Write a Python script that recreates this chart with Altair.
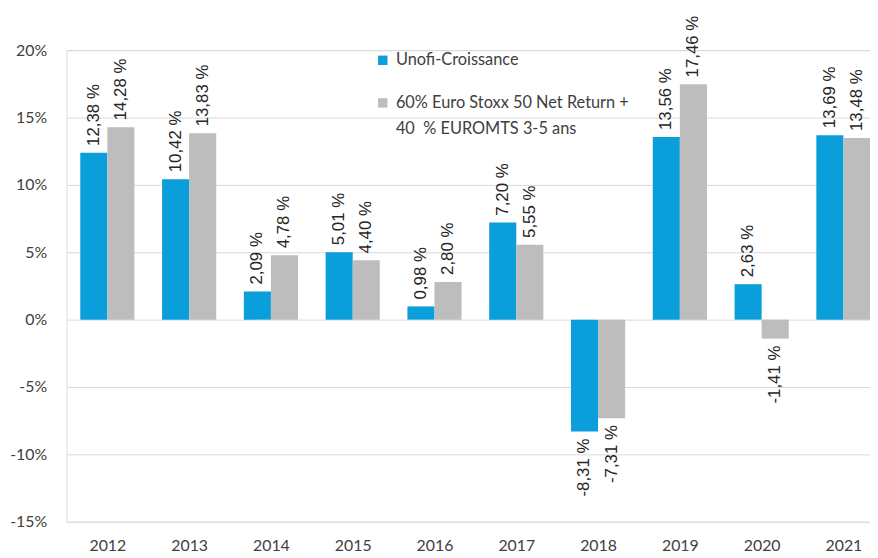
import altair as alt
import pandas as pd

years = [2012, 2013, 2014, 2015, 2016, 2017, 2018, 2019, 2020, 2021]
fund = [12.38, 10.42, 2.09, 5.01, 0.98, 7.20, -8.31, 13.56, 2.63, 13.69]
bench = [14.28, 13.83, 4.78, 4.40, 2.80, 5.55, -7.31, 17.46, -1.41, 13.48]
series = ["Unofi-Croissance", "60% Euro Stoxx 50 Net Return + 40 % EUROMTS 3-5 ans"]
colors = ["#0A9EDA", "#BDBDBD"]
y_ticks = [-15, -10, -5, 0, 5, 10, 15, 20]

rows = []
for i, y in enumerate(years):
    rows.append({"year": y, "series": series[0], "value": fund[i], "side": -1})
    rows.append({"year": y, "series": series[1], "value": bench[i], "side": 1})
df = pd.DataFrame(rows)

HALF = 0.331

base = alt.Chart(df).transform_calculate(
    x_lo="datum.side < 0 ? datum.year - %f : datum.year" % HALF,
    x_hi="datum.side < 0 ? datum.year : datum.year + %f" % HALF,
    x_mid="datum.year + datum.side * %f" % (HALF / 2),
    label="replace(replace(format(datum.value, '.2f'), '.', ','), '\u2212', '-') + ' %'",
)

xscale = alt.Scale(domain=[2011.5, 2021.325], nice=False, zero=False)
yscale = alt.Scale(domain=[-15, 20], nice=False)

bars = base.mark_bar(clip=True).encode(
    x=alt.X("x_lo:Q", scale=xscale,
            axis=alt.Axis(values=years, format="d", title=None, grid=False,
                          ticks=False, domain=False, labelPadding=16,
                          labelFont="Lato", labelFontSize=16, labelColor="#404040")),
    x2="x_hi:Q",
    y=alt.Y("value:Q", scale=yscale,
            axis=alt.Axis(values=y_ticks, labelExpr="datum.value + '%'", title=None,
                          grid=True, gridColor="#D9D9D9", ticks=False, domain=False,
                          labelPadding=20, labelFont="Lato", labelFontSize=16,
                          labelColor="#404040")),
    y2=alt.datum(0),
    color=alt.Color("series:N", scale=alt.Scale(domain=series, range=colors),
                    legend=alt.Legend(
                        title=None, orient="none", legendX=311, legendY=2,
                        symbolType="square", symbolSize=90, symbolStrokeWidth=0,
                        labelFont="Lato", labelFontSize=16.5, labelColor="#404040",
                        labelOffset=5, rowPadding=26, padding=0, labelLimit=400,
                        labelExpr="datum.label == 'Unofi-Croissance' ? datum.label : ['60% Euro Stoxx 50 Net Return +', '40\u00a0\u00a0% EUROMTS 3-5 ans']",
                    )),
)

txt_style = dict(angle=270, baseline="middle", font="Liberation Sans", fontSize=17,
                 color="#262626")

pos_labels = base.transform_filter("datum.value >= 0").mark_text(
    align="left", dx=7, **txt_style
).encode(x=alt.X("x_mid:Q", scale=xscale), y=alt.Y("value:Q", scale=yscale), text="label:N")

neg_labels = base.transform_filter("datum.value < 0").mark_text(
    align="right", dx=-7, **txt_style
).encode(x=alt.X("x_mid:Q", scale=xscale), y=alt.Y("value:Q", scale=yscale), text="label:N")

chart = alt.layer(bars, pos_labels, neg_labels).properties(
    width=811, height=476,
    autosize=alt.AutoSizeParams(type="none"),
    padding={"left": 59, "top": 40, "right": 0, "bottom": 30},
).configure_view(stroke=None).configure(
    background="white", style={"guide-label": {"lineHeight": 26}}
)

chart.save("out.html", embed_options={"renderer": "svg", "actions": False})
